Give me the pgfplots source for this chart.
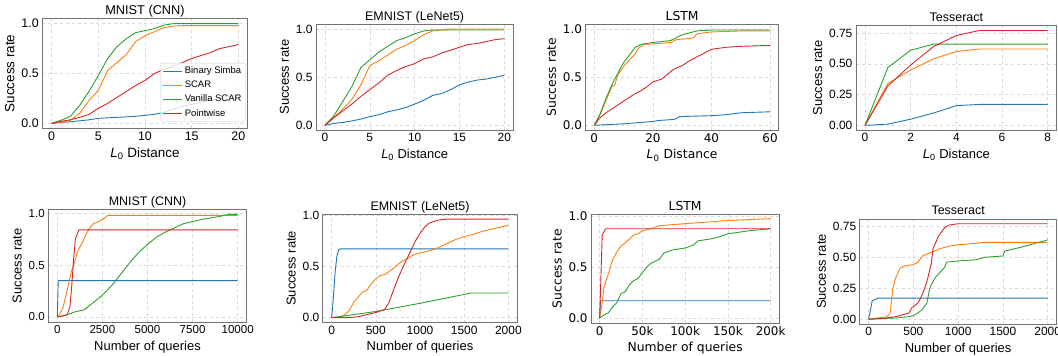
\documentclass[border=0pt]{standalone}
\usepackage{pgfplots}
\pgfplotsset{compat=1.18}
\usepackage{fontspec}
\setmainfont{Liberation Sans}
\newfontfamily\dejavu{DejaVu Sans}
\definecolor{tabblue}{HTML}{1F77B4}
\definecolor{taborange}{HTML}{FF7F0E}
\definecolor{tabgreen}{HTML}{2CA02C}
\definecolor{tabred}{HTML}{D62728}
\pgfplotsset{
  every axis title shift=0pt,
  base/.style={
    scale only axis, anchor=south west,
    axis line style={black!55, line width=0.7pt},
    grid=major, grid style={gray!30, dashed, line width=0.4pt},
    major tick length=0pt,
    /pgf/number format/assume math mode=true,
    /pgf/number format/1000 sep={},
    every axis plot/.append style={line width=0.9pt, no marks},
    ylabel={Success rate},
    title style={at={(0.5,1)}, anchor=base, yshift=4bp, inner sep=0pt},
  },
  small/.style={
    tick label style={font=\fontsize{12}{13}\selectfont},
    label style={font=\fontsize{13}{14}\selectfont},
    title style={font=\fontsize{12.5}{14}\selectfont},
  },
  dv/.style={
    tick label style={font=\dejavu\fontsize{12}{13}\selectfont},
    label style={font=\dejavu\fontsize{12.4}{14}\selectfont},
    title style={font=\dejavu\fontsize{12.4}{14}\selectfont},
  },
  y1/.style={ymin=-0.05, ymax=1.05, ytick={0,0.5,1}, yticklabel style={/pgf/number format/.cd, fixed, fixed zerofill, precision=1}},
  y2/.style={ymin=-0.0385, ymax=0.8085, ytick={0,0.25,0.5,0.75}, yticklabel style={/pgf/number format/.cd, fixed, fixed zerofill, precision=2}},
}
\newcommand{\Lzero}{\textit{L}\textsubscript{0} Distance}
\begin{document}
\begin{tikzpicture}
\useasboundingbox (0,0) rectangle (1058bp,356bp);
% Panel 1
\begin{axis}[base, y1, at={(42.3bp,227.7bp)}, width=205.4bp, height=109.6bp,
  xmin=-1, xmax=21, xtick={0,5,10,15,20},
  title={MNIST (CNN)}, xlabel={\Lzero},
  tick label style={font=\fontsize{12.5}{13}\selectfont},
  label style={font=\fontsize{13.5}{14}\selectfont},
  title style={font=\fontsize{12.8}{15}\selectfont},
  legend style={at={(0.99,0.06)}, anchor=south east, font=\fontsize{9.5}{11}\selectfont, draw=gray!40, rounded corners=2pt, fill=white, fill opacity=0.8, text opacity=1, row sep=1.8pt, inner sep=2pt},
  legend image code/.code={\draw[#1] (0bp,0bp) -- (19bp,0bp);},
  legend cell align=left]
\addplot[tabblue] coordinates {(0,0)(1,0.01)(2,0.015)(3,0.025)(4,0.035)(5,0.05)(6,0.055)(7,0.06)(8,0.065)(9,0.07)(10,0.08)(11,0.09)(12,0.11)(13,0.14)(14,0.17)(15,0.19)(16,0.21)(17,0.23)(18,0.25)(19,0.27)(20,0.28)};
\addlegendentry{Binary Simba}
\addplot[taborange] coordinates {(0,0)(1,0.01)(2,0.03)(3,0.1)(4,0.23)(5,0.33)(6,0.53)(7,0.61)(8,0.69)(9,0.82)(10,0.88)(11,0.92)(12,0.96)(13,0.975)(14,0.98)(15,0.98)(16,0.98)(17,0.98)(18,0.98)(19,0.98)(20,0.98)};
\addlegendentry{SCAR}
\addplot[tabgreen] coordinates {(0,0)(1,0.03)(2,0.07)(3,0.18)(4,0.32)(5,0.48)(6,0.65)(7,0.77)(8,0.85)(9,0.91)(10,0.93)(11,0.95)(12,0.985)(13,1.0)(14,1.0)(15,1.0)(16,1.0)(17,1.0)(18,1.0)(19,1.0)(20,1.0)};
\addlegendentry{Vanilla SCAR}
\addplot[tabred] coordinates {(0,0)(1,0.02)(2,0.035)(3,0.06)(4,0.09)(5,0.15)(6,0.2)(7,0.26)(8,0.32)(9,0.38)(10,0.43)(11,0.5)(12,0.54)(13,0.57)(14,0.61)(15,0.65)(16,0.68)(17,0.71)(18,0.75)(19,0.77)(20,0.79)};
\addlegendentry{Pointwise}
\end{axis}
% Panel 2
\begin{axis}[base, small, y1, at={(316bp,225.9bp)}, width=197.3bp, height=105.9bp,
  xmin=-1, xmax=21, xtick={0,5,10,15,20},
  title={EMNIST (LeNet5)}, xlabel={\Lzero}]
\addplot[tabblue] coordinates {(0,0)(1,0.02)(2,0.03)(3,0.045)(4,0.065)(5,0.09)(6,0.11)(7,0.14)(8,0.16)(9,0.185)(10,0.22)(11,0.26)(12,0.31)(13,0.33)(14,0.37)(15,0.42)(16,0.45)(17,0.47)(18,0.48)(19,0.5)(20,0.52)};
\addplot[taborange] coordinates {(0,0)(1,0.08)(2,0.17)(3,0.27)(4,0.42)(5,0.62)(6,0.67)(7,0.73)(8,0.79)(9,0.83)(10,0.88)(11,0.94)(12,0.98)(13,0.99)(14,1.0)(15,1.0)(16,1.0)(17,1.0)(18,1.0)(19,1.0)(20,1.0)};
\addplot[tabgreen] coordinates {(0,0)(1,0.1)(2,0.25)(3,0.4)(4,0.6)(5,0.68)(6,0.76)(7,0.82)(8,0.88)(9,0.91)(10,0.95)(11,0.98)(12,0.99)(13,0.99)(14,0.99)(15,0.99)(16,0.99)(17,0.99)(18,0.99)(19,0.99)(20,0.99)};
\addplot[tabred] coordinates {(0,0)(1,0.08)(2,0.15)(3,0.22)(4,0.3)(5,0.37)(6,0.44)(7,0.52)(8,0.57)(9,0.61)(10,0.64)(11,0.69)(12,0.71)(13,0.75)(14,0.78)(15,0.81)(16,0.84)(17,0.85)(18,0.87)(19,0.89)(20,0.9)};
\end{axis}
% Panel 3
\begin{axis}[base, dv, y1, at={(585.5bp,225.9bp)}, width=193.3bp, height=105.9bp,
  xmin=-3, xmax=63, xtick={0,20,40,60},
  title={LSTM}, xlabel={\Lzero}]
\addplot[tabblue] coordinates {(0,0)(10,0.015)(20,0.04)(22,0.05)(27,0.06)(28,0.07)(29,0.09)(40,0.1)(45,0.11)(50,0.13)(60,0.14)};
\addplot[taborange] coordinates {(0,0)(2,0.11)(4,0.26)(6,0.4)(7,0.42)(8,0.52)(10,0.61)(12,0.68)(14,0.74)(15,0.8)(17,0.84)(20,0.845)(26,0.86)(28,0.89)(32,0.9)(34,0.91)(35,0.95)(40,0.97)(50,0.98)(60,0.98)};
\addplot[tabgreen] coordinates {(0,0)(2,0.12)(4,0.28)(6,0.42)(8,0.54)(10,0.65)(12,0.73)(14,0.81)(16,0.84)(20,0.86)(26,0.88)(28,0.91)(30,0.94)(35,0.98)(40,0.99)(60,0.99)};
\addplot[tabred] coordinates {(0,0)(2,0.08)(4,0.13)(6,0.17)(8,0.21)(10,0.25)(12,0.29)(14,0.33)(16,0.36)(18,0.4)(20,0.45)(23,0.48)(25,0.53)(27,0.58)(30,0.62)(32,0.66)(35,0.71)(37,0.74)(40,0.79)(45,0.81)(50,0.82)(60,0.83)};
\end{axis}
% Panel 4
\begin{axis}[base, small, y2, at={(855.9bp,225.9bp)}, width=200.9bp, height=104.3bp,
  xmin=-0.4, xmax=8.4, xtick={0,2,4,6,8},
  title={Tesseract}, xlabel={\Lzero}]
\addplot[tabblue] coordinates {(0,0)(1,0.01)(2,0.05)(3,0.1)(4,0.16)(5,0.17)(6,0.17)(7,0.17)(8,0.17)};
\addplot[taborange] coordinates {(0,0)(1,0.34)(2,0.45)(3,0.54)(4,0.6)(5,0.62)(6,0.62)(7,0.62)(8,0.62)};
\addplot[tabgreen] coordinates {(0,0)(1,0.47)(2,0.61)(3,0.66)(4,0.66)(5,0.66)(6,0.66)(7,0.66)(8,0.66)};
\addplot[tabred] coordinates {(0,0)(1,0.32)(2,0.49)(3,0.64)(4,0.73)(5,0.77)(6,0.77)(7,0.77)(8,0.77)};
\end{axis}
% Panel 5
\begin{axis}[base, small, y1, at={(48.3bp,33.9bp)}, width=198.4bp, height=112.9bp,
  ymin=-0.0495, ymax=1.0395,
  xmin=-500, xmax=10500, xtick={0,2500,5000,7500,10000},
  scaled x ticks=false,
  tick label style={font=\fontsize{11.6}{13}\selectfont},
  title={MNIST (CNN)}, xlabel={Number of queries}]
\addplot[tabblue] coordinates {(0,0)(50,0.35)(10000,0.35)};
\addplot[taborange] coordinates {(0,0)(100,0.02)(200,0.05)(300,0.08)(400,0.15)(500,0.22)(600,0.3)(700,0.38)(800,0.45)(900,0.5)(1000,0.55)(1100,0.62)(1200,0.66)(1400,0.72)(1600,0.8)(1800,0.86)(2000,0.9)(2300,0.92)(2600,0.95)(2800,0.98)(10000,0.98)};
\addplot[tabgreen] coordinates {(0,0)(500,0.02)(1000,0.05)(1500,0.07)(2000,0.14)(2500,0.21)(3000,0.3)(3500,0.41)(4000,0.52)(4500,0.62)(5000,0.7)(5500,0.77)(6000,0.82)(7000,0.9)(8000,0.94)(9000,0.97)(9500,0.99)(10000,0.99)};
\addplot[tabred] coordinates {(0,0)(300,0.01)(550,0.02)(700,0.1)(800,0.3)(900,0.55)(1000,0.75)(1100,0.8)(1200,0.84)(10000,0.84)};
\end{axis}
% Panel 6
\begin{axis}[base, small, y1, at={(322.8bp,33.4bp)}, width=194.4bp, height=108.4bp,
  ymin=-0.048, ymax=1.008,
  xmin=-100, xmax=2100, xtick={0,500,1000,1500,2000},
  title={EMNIST (LeNet5)}, xlabel={Number of queries}]
\addplot[tabblue] coordinates {(0,0)(20,0.2)(40,0.45)(60,0.6)(80,0.66)(100,0.67)(2000,0.67)};
\addplot[taborange] coordinates {(0,0)(100,0.01)(150,0.03)(200,0.07)(250,0.15)(300,0.2)(350,0.25)(400,0.27)(450,0.33)(500,0.38)(550,0.41)(600,0.42)(650,0.45)(700,0.48)(750,0.52)(800,0.55)(850,0.57)(900,0.6)(950,0.62)(1000,0.63)(1100,0.65)(1200,0.68)(1300,0.72)(1400,0.76)(1500,0.79)(1600,0.81)(1700,0.84)(1800,0.86)(1900,0.88)(2000,0.9)};
\addplot[tabgreen] coordinates {(0,0)(500,0.06)(1000,0.14)(1580,0.24)(2000,0.24)};
\addplot[tabred] coordinates {(0,0)(200,0)(300,0.01)(400,0.03)(500,0.05)(600,0.08)(650,0.15)(700,0.27)(750,0.38)(800,0.48)(850,0.57)(900,0.66)(950,0.75)(1000,0.82)(1050,0.88)(1100,0.92)(1200,0.95)(1300,0.96)(2000,0.96)};
\end{axis}
% Panel 7
\begin{axis}[base, dv, y1, at={(591.1bp,33bp)}, width=188.1bp, height=108.5bp,
  ymin=-0.049, ymax=1.02,
  xmin=-10000, xmax=210000, xtick={0,50000,100000,150000,200000},
  xticklabels={0,50k,100k,150k,200k}, scaled x ticks=false,
  title={LSTM}, xlabel={Number of queries}]
\addplot[tabblue] coordinates {(0,0)(1000,0.17)(200000,0.17)};
\addplot[taborange] coordinates {(0,0)(3000,0.15)(5000,0.3)(10000,0.43)(15000,0.57)(20000,0.65)(25000,0.71)(30000,0.74)(35000,0.78)(40000,0.82)(45000,0.83)(50000,0.86)(60000,0.88)(70000,0.91)(100000,0.93)(150000,0.96)(200000,0.98)};
\addplot[tabgreen] coordinates {(0,0)(5000,0.03)(10000,0.05)(15000,0.11)(20000,0.15)(25000,0.24)(30000,0.26)(35000,0.33)(40000,0.37)(45000,0.39)(50000,0.45)(55000,0.5)(60000,0.54)(70000,0.58)(75000,0.64)(85000,0.67)(100000,0.69)(110000,0.72)(115000,0.76)(130000,0.78)(140000,0.8)(150000,0.83)(175000,0.86)(200000,0.88)};
\addplot[tabred] coordinates {(0,0)(3000,0.82)(7000,0.88)(200000,0.88)};
\end{axis}
% Panel 8
\begin{axis}[base, small, y2, at={(859.7bp,32bp)}, width=196.9bp, height=105bp,
  xmin=-100, xmax=2100, xtick={0,500,1000,1500,2000},
  title={Tesseract}, xlabel={Number of queries}]
\addplot[tabblue] coordinates {(0,0)(40,0.15)(80,0.16)(100,0.17)(2000,0.17)};
\addplot[taborange] coordinates {(0,0)(200,0.02)(240,0.05)(270,0.25)(300,0.33)(350,0.41)(400,0.43)(500,0.44)(550,0.46)(600,0.51)(700,0.54)(800,0.57)(900,0.59)(1000,0.6)(1300,0.62)(2000,0.62)};
\addplot[tabgreen] coordinates {(0,0)(300,0.01)(450,0.02)(500,0.03)(550,0.05)(600,0.08)(650,0.13)(680,0.24)(700,0.28)(750,0.34)(800,0.38)(850,0.42)(870,0.46)(1000,0.47)(1200,0.48)(1300,0.5)(1500,0.51)(1520,0.55)(1700,0.58)(1800,0.6)(1900,0.62)(2000,0.64)};
\addplot[tabred] coordinates {(0,0)(200,0.01)(300,0.02)(400,0.04)(450,0.05)(480,0.09)(550,0.13)(600,0.2)(650,0.3)(700,0.45)(720,0.57)(780,0.67)(850,0.74)(900,0.76)(1000,0.77)(2000,0.77)};
\end{axis}
\end{tikzpicture}
\end{document}
